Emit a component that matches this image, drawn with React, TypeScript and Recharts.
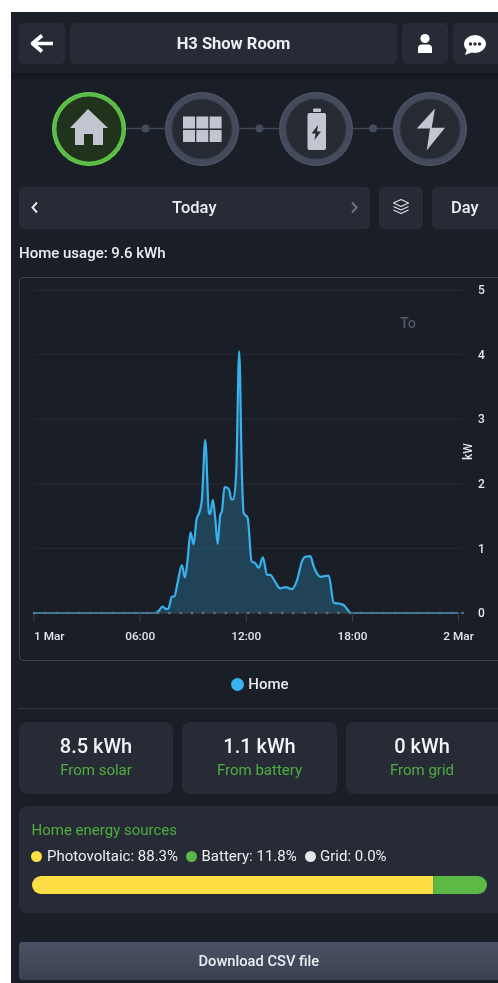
import React from "react";
import {
  Area,
  Bar,
  BarChart,
  CartesianGrid,
  ComposedChart,
  Legend,
  ReferenceDot,
  XAxis,
  YAxis,
} from "recharts";

// hours since midnight and home power in kW
const hours = [
  0, 6.85, 7.04, 7.26, 7.47, 7.6, 7.79, 7.94, 8.11, 8.36, 8.53, 8.68, 8.85, 9.02, 9.19, 9.34, 9.49,
  9.68, 9.89, 9.96, 10.11, 10.25, 10.38, 10.53, 10.62, 10.77, 10.94, 11.06, 11.15, 11.28, 11.43,
  11.6, 11.75, 11.85, 12.08, 12.3, 12.51, 12.7, 12.94, 13.17, 13.36, 13.55, 13.92, 14.21, 14.58,
  14.87, 15.15, 15.34, 15.62, 15.81, 16.19, 16.66, 16.94, 17.32, 17.51, 17.92, 24,
];
const homeKw = [
  0, 0, 0.03, 0.1, 0.06, 0.07, 0.25, 0.26, 0.46, 0.74, 0.55, 0.82, 1.25, 1.06, 1.45, 1.55, 1.75,
  2.68, 1.55, 1.53, 1.75, 1.45, 1.07, 1.52, 1.57, 1.95, 1.94, 1.88, 1.76, 1.76, 2.17,
  4.05, 2.17, 1.55, 1.47, 0.8, 0.77, 0.7, 0.86, 0.59, 0.59, 0.52, 0.38, 0.4, 0.37,
  0.51, 0.8, 0.87, 0.88, 0.72, 0.56, 0.58, 0.16, 0.14, 0.12, 0, 0,
];
const markerHours = [
  0, 0.64, 1.28, 1.91, 2.55, 3.19, 3.83, 4.46, 5.1, 5.74, 6.38, 7.01, 7.65, 8.29, 8.93, 9.56, 10.2,
  10.84, 11.48, 12.11, 12.75, 13.39, 14.03, 14.66, 15.3, 15.94, 16.58, 17.21, 17.85, 18.49, 19.13,
  19.76, 20.4, 21.04, 21.68, 22.31, 22.95, 23.59, 24.23,
];
const xTicks = [0, 6, 12, 18, 24];
const xLabels = ["1 Mar", "06:00", "12:00", "18:00", "2 Mar"];
const yTicks = [0, 1, 2, 3, 4, 5];

const summaryValues = ["8.5 kWh", "1.1 kWh", "0 kWh"];
const summaryLabels = ["From solar", "From battery", "From grid"];
const sourceNames = ["Photovoltaic", "Battery", "Grid"];
const sourceShares = [88.3, 11.8, 0.0];
const sourceColors = ["#ffdd44", "#5cb946", "#e6e6e6"];

const chartData = hours.map((hour, i) => ({ hour, home: homeKw[i] }));
const sourceData = [
  { name: "share", pv: sourceShares[0], battery: sourceShares[1], grid: sourceShares[2] },
];

const FONT = "Roboto, sans-serif";
const PANEL = "#1a1e26";
const CARD = "#262b35";
const GLYPH = "#c2c6d0";
const LINE_BLUE = "#38b2ee";
const GREEN = "#4fae3f";

function Box({ x, y, w, h, r = 5, bg = CARD, children, style }: any) {
  return (
    <div
      style={{
        position: "absolute",
        left: x,
        top: y,
        width: w,
        height: h,
        borderRadius: r,
        background: bg,
        display: "flex",
        alignItems: "center",
        justifyContent: "center",
        ...style,
      }}
    >
      {children}
    </div>
  );
}

function Label({ x, y, size = 14, weight = 500, color = "#eceef2", children, center = false }: any) {
  return (
    <div
      style={{
        position: "absolute",
        left: x,
        top: y,
        transform: center ? "translate(-50%, -50%)" : "translateY(-50%)",
        fontSize: size,
        fontWeight: weight,
        color,
        whiteSpace: "nowrap",
        lineHeight: 1,
      }}
    >
      {children}
    </div>
  );
}

function XTick({ x, y, payload }: any) {
  const i = xTicks.indexOf(payload.value);
  return (
    <text
      x={x}
      y={y + 11}
      textAnchor={i === 0 ? "start" : "middle"}
      fontSize={11.8}
      fontWeight={500}
      fill="#e4e6ea"
      fontFamily={FONT}
    >
      {xLabels[i]}
    </text>
  );
}

function NavRing({ cx, active = false }: any) {
  return (
    <g>
      <circle cx={cx} cy={129} r={37} fill={active ? "#5abb46" : "#434b5b"} />
      <circle cx={cx} cy={129} r={36.3} fill="none" stroke={active ? "#66c650" : "#4d5567"} strokeWidth={1} />
      <circle cx={cx} cy={129} r={active ? 32 : 30} fill={active ? "#22331d" : "#262a33"} stroke={active ? "#1d2a19" : "#343a47"} />
    </g>
  );
}

function NavIcons() {
  return (
    <svg width={498} height={983} style={{ position: "absolute", left: 0, top: 0, pointerEvents: "none" }}>
      <line x1={120} x2={400} y1={128.5} y2={128.5} stroke="#3d4452" strokeWidth={1.5} />
      {[145.5, 259.5, 373].map((cx) => (
        <circle key={cx} cx={cx} cy={128.5} r={4} fill="#434b5c" />
      ))}
      <NavRing cx={89} active />
      <NavRing cx={202} />
      <NavRing cx={316} />
      <NavRing cx={430} />
      {/* home */}
      <path d="M88 109 L108 128 L103 128 L103 145 L93 145 L93 134 L84 134 L84 145 L75 145 L75 128 L70 128 Z" fill={GLYPH} />
      {/* panel */}
      {[183, 196.3, 209.6].map((px) =>
        [116.5, 130].map((py) => <rect key={`${px}-${py}`} x={px} y={py} width={12} height={12} fill={GLYPH} />)
      )}
      {/* battery */}
      <rect x={313} y={108.5} width={8} height={3.5} rx={1} fill={GLYPH} />
      <rect x={307.5} y={113} width={18.5} height={37} rx={2} fill={GLYPH} />
      <path d="M318 125 L311.5 133.5 L315.5 133.5 L314.5 140 L321 131.5 L317 131.5 Z" fill="#262a33" />
      {/* bolt */}
      <path d="M435 108.5 L416.7 128.5 L430 128.5 L426.7 150.5 L445 127.7 L431.7 127.7 Z" fill={GLYPH} />
      {/* back arrow */}
      <path d="M53 43.5 L33 43.5 M42 35.5 L32.5 43.5 L42 51.5" stroke="#fff" strokeWidth={3.6} fill="none" strokeLinejoin="round" />
      {/* person */}
      <circle cx={425} cy={38.5} r={4.6} fill="#fff" />
      <path d="M418 53 L418 48.5 Q418 44.5 422 44.5 L428 44.5 Q432 44.5 432 48.5 L432 53 Z" fill="#fff" />
      {/* chat */}
      <ellipse cx={475} cy={44} rx={11} ry={9} fill="#fff" />
      <path d="M467 49 L465 55 L473 52 Z" fill="#fff" />
      {[470.5, 475, 479.5].map((cx) => (
        <circle key={cx} cx={cx} cy={44} r={1.7} fill="#262b35" />
      ))}
      {/* chevrons */}
      <path d="M37 202.5 L32.5 207.5 L37 212.5" stroke="#e6e8ec" strokeWidth={2} fill="none" />
      <path d="M352 202.5 L356.5 207.5 L352 212.5" stroke="#6d7380" strokeWidth={2} fill="none" />
      {/* layers */}
      <g stroke="#dfe2e8" strokeWidth={1.2} fill="none" strokeLinejoin="round">
        <path d="M401 199.5 L408.5 203 L401 206.5 L393.5 203 Z" />
        <path d="M393.5 206.5 L401 210 L408.5 206.5" />
        <path d="M393.5 210 L401 213.5 L408.5 210" />
      </g>
    </svg>
  );
}

function PowerChart() {
  return (
    <ComposedChart
      width={479}
      height={420}
      data={chartData}
      margin={{ top: 13, right: 0, bottom: 54, left: 15 }}
      style={{ position: "absolute", left: 19, top: 277, fontFamily: FONT }}
    >
      <CartesianGrid horizontal vertical={false} stroke="#272b33" />
      <XAxis
        dataKey="hour"
        type="number"
        domain={[0, 24.25]}
        ticks={xTicks}
        height={30}
        tickSize={9}
        tickMargin={7}
        axisLine={{ stroke: "#3a3f48" }}
        tickLine={{ stroke: "#3a3f48" }}
        tick={<XTick />}
        interval={0}
      />
      <YAxis
        orientation="right"
        domain={[0, 5]}
        ticks={yTicks}
        width={35}
        axisLine={false}
        tickLine={false}
        tickSize={0}
        tickMargin={15}
        tick={{ fontSize: 12, fontWeight: 500, fill: "#e4e6ea" }}
        label={{ value: "kW", angle: -90, position: "center", dx: -12.5, fontSize: 12, fontWeight: 500, fill: "#e4e6ea" }}
      />
      <Area
        name="Home"
        dataKey="home"
        type="monotone"
        stroke={LINE_BLUE}
        strokeWidth={2.2}
        fill={LINE_BLUE}
        fillOpacity={0.25}
        legendType="circle"
        isAnimationActive={false}
        dot={false}
        activeDot={false}
      />
      {markerHours.map((h) => (
        <ReferenceDot key={h} x={h} y={0} r={1.3} fill="#6a737f" stroke="none" ifOverflow="visible" zIndex={1000} />
      ))}
      <Legend
        verticalAlign="middle"
        align="center"
        iconSize={13}
        wrapperStyle={{ top: 397, left: 0, width: 492 }}
        formatter={(value: string) => (
          <span style={{ color: "#e8eaee", fontSize: 15, fontWeight: 500 }}>{value}</span>
        )}
      />
    </ComposedChart>
  );
}

function SourceBar() {
  return (
    <div style={{ position: "absolute", left: 32, top: 875.5, width: 455, height: 18, borderRadius: 9, overflow: "hidden" }}>
      <BarChart
        width={455}
        height={18}
        layout="vertical"
        data={sourceData}
        margin={{ top: 0, right: 0, bottom: 0, left: 0 }}
        barCategoryGap={0}
      >
        <XAxis type="number" domain={[0, 100.1]} hide />
        <YAxis type="category" dataKey="name" hide />
        <Bar dataKey="pv" stackId="s" fill={sourceColors[0]} isAnimationActive={false} />
        <Bar dataKey="battery" stackId="s" fill={sourceColors[1]} isAnimationActive={false} />
        <Bar dataKey="grid" stackId="s" fill={sourceColors[2]} isAnimationActive={false} />
      </BarChart>
    </div>
  );
}

export default function App() {
  const cardX = [18.5, 182, 345.5];
  const cardW = [154.5, 155, 160];
  const cardCx = [96, 259.5, 422];
  const rowDot = [36.5, 191.5, 310];
  const rowText = [47, 201.5, 320];
  return (
    <div style={{ position: "absolute", left: 0, top: 0, width: 498, height: 983, overflow: "hidden", background: "#fff", fontFamily: FONT, filter: "blur(0.3px)" }}>
      <div style={{ position: "absolute", left: 11, top: 12, width: 487, height: 971, background: PANEL }} />
      <div style={{ position: "absolute", left: 11, top: 12, width: 487, height: 61, background: "#1c2028" }} />
      <div style={{ position: "absolute", left: 11, top: 73, width: 487, height: 8, background: "linear-gradient(rgba(0,0,0,0.3), rgba(0,0,0,0))" }} />

      <Box x={18.5} y={23} w={46} h={41} />
      <Box x={70} y={23} w={327} h={41}>
        <span style={{ color: "#eceef2", fontSize: 16.5, fontWeight: 700 }}>H3 Show Room</span>
      </Box>
      <Box x={402} y={23} w={46} h={41} />
      <Box x={453} y={23} w={50} h={41} />

      <Box x={18.5} y={187} w={351.5} h={42}>
        <span style={{ color: "#eceef2", fontSize: 16.5, fontWeight: 500, marginTop: -2 }}>Today</span>
      </Box>
      <Box x={379} y={187} w={44} h={42} />
      <Box x={432} y={187} w={72} h={42} style={{ justifyContent: "flex-start" }}>
        <span style={{ color: "#eceef2", fontSize: 16.5, fontWeight: 500, marginLeft: 19, marginTop: -2 }}>Day</span>
      </Box>
      <NavIcons />

      <Label x={19} y={252.5} size={15}>Home usage: 9.6 kWh</Label>

      <div style={{ position: "absolute", left: 19, top: 277, width: 490, height: 383.5, border: "1px solid #3d4350", borderRadius: 4, boxSizing: "border-box" }} />
      <Label x={400} y={324} size={14.5} color="#4f5766">To</Label>
      <PowerChart />
      <div style={{ position: "absolute", left: 18, top: 708, width: 480, height: 1, background: "#333945" }} />

      {summaryValues.map((v, i) => (
        <React.Fragment key={v}>
          <Box x={cardX[i]} y={721.5} w={cardW[i]} h={72} r={8} />
          <Label x={cardCx[i]} y={745.5} size={20} center color="#f2f3f5">{v}</Label>
          <Label x={cardCx[i]} y={770} size={15} weight={400} color={GREEN} center>{summaryLabels[i]}</Label>
        </React.Fragment>
      ))}

      <Box x={18.5} y={806} w={490} h={107} r={8} />
      <Label x={31.5} y={829.5} size={15} weight={400} color={GREEN}>Home energy sources</Label>
      {sourceNames.map((name, i) => (
        <React.Fragment key={name}>
          <div style={{ position: "absolute", left: rowDot[i] - 5.5, top: 851, width: 11, height: 11, borderRadius: "50%", background: sourceColors[i] }} />
          <Label x={rowText[i]} y={856} size={15} weight={400} color="#eceef2">
            {name}: {sourceShares[i].toFixed(1)}%
          </Label>
        </React.Fragment>
      ))}
      <SourceBar />

      <Box
        x={18.5}
        y={942}
        w={490}
        h={38}
        r={4}
        bg="linear-gradient(#4a5265, #3a4152)"
        style={{ justifyContent: "flex-start" }}
      >
        <span style={{ marginLeft: 180, color: "#eceef2", fontSize: 14.7, fontWeight: 500 }}>Download CSV file</span>
      </Box>
    </div>
  );
}
